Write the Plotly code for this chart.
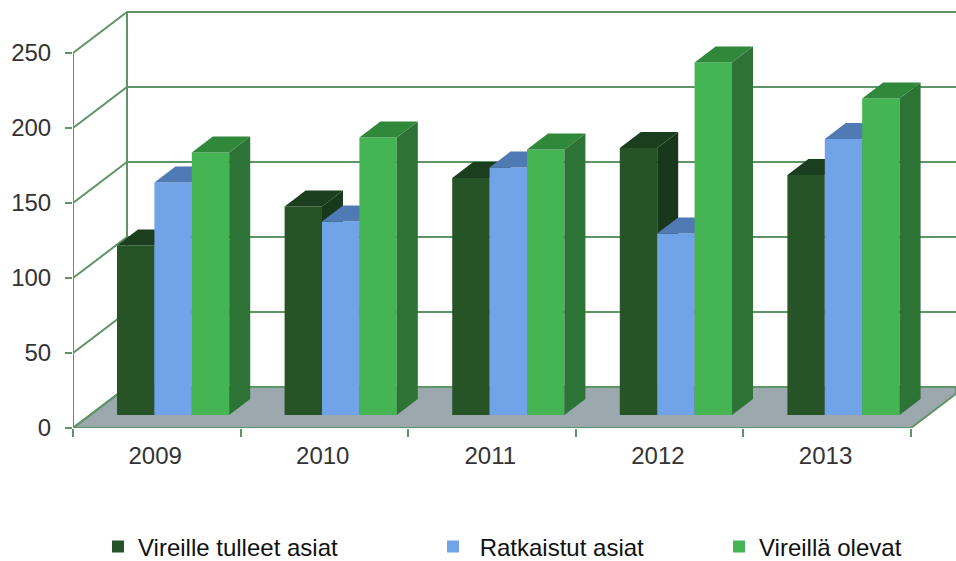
import plotly.graph_objects as go

years = ["2009", "2010", "2011", "2012", "2013"]
vireille = [113, 139, 158, 178, 160]
ratkaistut = [155, 129, 165, 121, 184]
vireilla = [175, 185, 177, 235, 211]
y_ticks = [0, 50, 100, 150, 200, 250]

names = ["Vireille tulleet asiat", "\u00a0Ratkaistut asiat", "Vireillä olevat"]
front = ["#265426", "#70A3E8", "#45B452"]
side = ["#17381A", "#4A72AC", "#2C7335"]
top = ["#1B3F1E", "#507AB4", "#30883B"]
LINE = "#5F9467"
FLOOR = "#9BA8AD"
series = [vireille, ratkaistut, vireilla]

# scale: one category = 167.6 px, one value unit = 1.5 px
CAT = 167.6
UNIT = 1.5
PLOT_L, PLOT_W, PLOT_H = 73, 883, 428
xmax = PLOT_W / CAT
ymax = PLOT_H / UNIT

WALL_DX, WALL_DY = 54 / CAT, 41 / UNIT
BAR_DX, BAR_DY = 21 / CAT, 16 / UNIT
BAR_W = 37.4 / CAT
BAR_START = 44 / CAT
BASE = 13 / UNIT

fig = go.Figure()

# floor
edge_dy = (xmax - 5) / WALL_DX * WALL_DY
fig.add_trace(go.Scatter(
    x=[0, 5, xmax, xmax, WALL_DX, 0], y=[0, 0, edge_dy, WALL_DY, WALL_DY, 0],
    mode="lines", fill="toself", fillcolor=FLOOR, line=dict(color=LINE, width=2),
    showlegend=False, hoverinfo="skip", zorder=0, cliponaxis=False))

# walls: side diagonals, back horizontals
wx, wy = [], []
for v in y_ticks:
    wx += [0, WALL_DX, xmax, None]
    wy += [v, v + WALL_DY, v + WALL_DY, None]
wx += [0, 0, None, WALL_DX, WALL_DX, None]
wy += [0, y_ticks[-1], None, WALL_DY, y_ticks[-1] + WALL_DY, None]
fig.add_trace(go.Scatter(x=wx, y=wy, mode="lines", line=dict(color=LINE, width=2),
                         showlegend=False, hoverinfo="skip", zorder=0, cliponaxis=False))

for s, vals in enumerate(series):
    z = s + 1
    lefts = [i + BAR_START + s * BAR_W for i in range(len(years))]
    legend_id = "legend" if s == 0 else f"legend{s + 1}"
    fig.add_trace(go.Bar(
        x=[l + BAR_W / 2 for l in lefts], y=vals, base=BASE, width=BAR_W,
        marker=dict(color=front[s], line=dict(width=0)), name=names[s],
        legend=legend_id, zorder=z, hoverinfo="skip"))
    sx, sy, tx, ty = [], [], [], []
    for l, v in zip(lefts, vals):
        r = l + BAR_W
        t = BASE + v
        sx += [r, r + BAR_DX, r + BAR_DX, r, r, None]
        sy += [BASE, BASE + BAR_DY, t + BAR_DY, t, BASE, None]
        tx += [l, r, r + BAR_DX, l + BAR_DX, l, None]
        ty += [t, t, t + BAR_DY, t + BAR_DY, t, None]
    for xs, ys, col in ((sx, sy, side[s]), (tx, ty, top[s])):
        fig.add_trace(go.Scatter(x=xs, y=ys, mode="lines", fill="toself", fillcolor=col,
                                 line=dict(width=0, color=col), showlegend=False,
                                 hoverinfo="skip", zorder=z))

fig.update_layout(
    width=956, height=561, autosize=False, barmode="overlay",
    margin=dict(l=PLOT_L, r=0, t=0, b=561 - PLOT_H, pad=0, autoexpand=False),
    paper_bgcolor="white", plot_bgcolor="white",
    font=dict(family="Liberation Sans", color="#333333", size=24),
    xaxis=dict(range=[0, xmax], showgrid=False, zeroline=False, showline=False,
               tickmode="array", tickvals=[i + 0.49 for i in range(len(years))],
               ticktext=years, ticks="", ticklabelstandoff=11,
               minor=dict(tickmode="array", tickvals=list(range(len(years) + 1)),
                          ticks="outside", ticklen=8, tickwidth=2, tickcolor=LINE, showgrid=False)),
    yaxis=dict(range=[0, ymax], showgrid=False, zeroline=False, showline=False,
               tickmode="array", tickvals=y_ticks, ticks="outside", ticklen=7,
               tickwidth=2, tickcolor=LINE, ticklabelstandoff=9),
)

leg_font = dict(family="Liberation Sans", color="#111111", size=24)
leg_y = (PLOT_H - 547) / PLOT_H
for key, px in (("legend", 98), ("legend2", 433), ("legend3", 719)):
    fig.update_layout({key: dict(x=(px - PLOT_L) / PLOT_W, xanchor="left", y=leg_y, yanchor="middle",
                                 bgcolor="rgba(0,0,0,0)", borderwidth=0, font=leg_font, itemclick=False)})

fig.write_html("out.html", default_width="956px", default_height="561px",
               config={"displayModeBar": False},
               post_script="document.body.style.margin='0';document.documentElement.style.overflow='hidden';")
